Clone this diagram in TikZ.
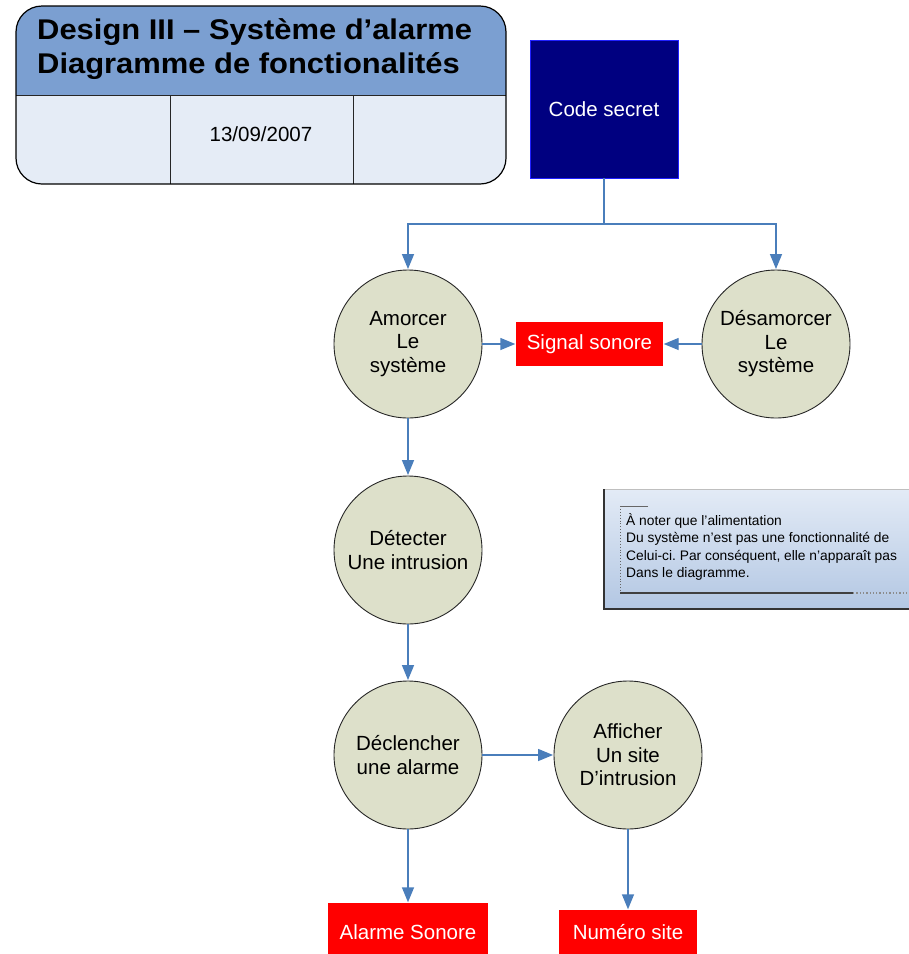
\documentclass[tikz,border=0pt]{standalone}
\usepackage{fontspec}
\setmainfont{Liberation Sans}
\usetikzlibrary{arrows.meta}
\frenchspacing

\definecolor{headblue}{HTML}{7B9FD1}
\definecolor{cellblue}{HTML}{E5ECF6}
\definecolor{navybox}{HTML}{000080}
\definecolor{navyedge}{HTML}{2020FF}
\definecolor{alarmred}{HTML}{FF0000}
\definecolor{bubble}{HTML}{DDE0CA}
\definecolor{linkblue}{HTML}{4A7EBB}
\definecolor{notetop}{HTML}{E3EBF6}
\definecolor{notebot}{HTML}{B3C7E3}

\tikzset{
  bubble/.style={circle, draw=black!85, line width=0.9pt, fill=bubble,
    minimum size=148pt, inner sep=0pt, align=center,
    font=\fontsize{20.5}{23.5}\selectfont},
  redbox/.style={rectangle, fill=alarmred, text=white, inner sep=0pt,
    font=\fontsize{20.5}{23.5}\selectfont},
  link/.style={draw=linkblue, line width=1.4pt},
  arr/.style={link, -{Triangle[length=15pt,width=12pt]}, shorten >=0.5pt}
}

\begin{document}
\begin{tikzpicture}[x=1pt,y=-1pt]
\useasboundingbox (0,0) rectangle (909,954);

% title block
\begin{scope}
  \clip[rounded corners=26pt] (16,6) rectangle (506,184);
  \fill[cellblue] (16,6) rectangle (506,184);
  \fill[headblue] (16,6) rectangle (506,95);
\end{scope}
\draw[black!85, line width=1pt] (16,95) -- (506,95);
\draw[black!85, line width=1pt] (170,95) -- (170,184);
\draw[black!85, line width=1pt] (353,95) -- (353,184);
\draw[black, line width=1.2pt, rounded corners=26pt] (16,6) rectangle (506,184);
\node[anchor=west, inner sep=0pt, align=left,
      font=\fontsize{28.5}{34}\selectfont\bfseries] (title) at (37,49)
  {\scalebox{1.085}[1]{Design III – Système d’alarme}\\
   \scalebox{1.085}[1]{Diagramme de fonctionalités}};
\node[inner sep=0pt, font=\fontsize{20.5}{23.5}\selectfont] (date) at (261,134) {13/09/2007};

% secret code source
\node[rectangle, draw=navyedge, line width=0.8pt, fill=navybox, text=white,
      minimum width=148pt, minimum height=138pt, inner sep=0pt,
      font=\fontsize{20.5}{23.5}\selectfont] (code) at (604,109) {Code secret};

% functions
\node[bubble] (amorcer) at (408,344) {Amorcer\\Le\\système};
\node[bubble] (desamorcer) at (776,344) {Désamorcer\\Le\\système};
\node[bubble] (detecter) at (408,550) {Détecter\\Une intrusion};
\node[bubble] (declencher) at (408,755) {Déclencher\\une alarme};
\node[bubble] (afficher) at (628,755) {Afficher\\Un site\\D’intrusion};

% outputs
\node[redbox, minimum width=147pt, minimum height=44pt] (signal) at (589.5,344) {Signal sonore};
\node[redbox, minimum width=160pt, minimum height=58pt] (alarme) at (408,932) {Alarme Sonore};
\node[redbox, minimum width=138pt, minimum height=44pt] (numero) at (628,932) {Numéro site};

% connectors
\coordinate (fork) at (604,224);
\draw[link] (code.south) -- (fork);
\draw[arr] (fork) -| (amorcer.north);
\draw[arr] (fork) -| (desamorcer.north);
\draw[arr] (amorcer.east) -- (signal.west);
\draw[arr] (desamorcer.west) -- (signal.east);
\draw[arr] (amorcer.south) -- (detecter.north);
\draw[arr] (detecter.south) -- (declencher.north);
\draw[arr] (declencher.east) -- (afficher.west);
\draw[arr] (declencher.south) -- (alarme.north);
\draw[arr] (afficher.south) -- (numero.north);

% note
\shade[top color=notetop, bottom color=notebot] (604,489) rectangle (915,609);
\draw[black!25, line width=0.6pt] (604,489) -- (915,489);
\draw[black!80, line width=1.3pt] (604,489) -- (604,609) -- (915,609);
\draw[black!60, line width=0.6pt] (648,506) -- (620,506);
\draw[black!60, line width=0.9pt, dotted] (620,506) -- (620,593);
\draw[black!75, line width=1.3pt] (620,593) -- (853,593);
\draw[black!45, line width=1.3pt, dotted] (853,593) -- (915,593);
\node[anchor=west, inner sep=0pt, align=left,
      font=\fontsize{13.8}{17.4}\selectfont] (note) at (626,547)
  {À noter que l'alimentation\\
   Du système n'est pas une fonctionnalité de\\
   Celui-ci. Par conséquent, elle n'apparaît pas\\
   Dans le diagramme.};
\end{tikzpicture}
\end{document}
